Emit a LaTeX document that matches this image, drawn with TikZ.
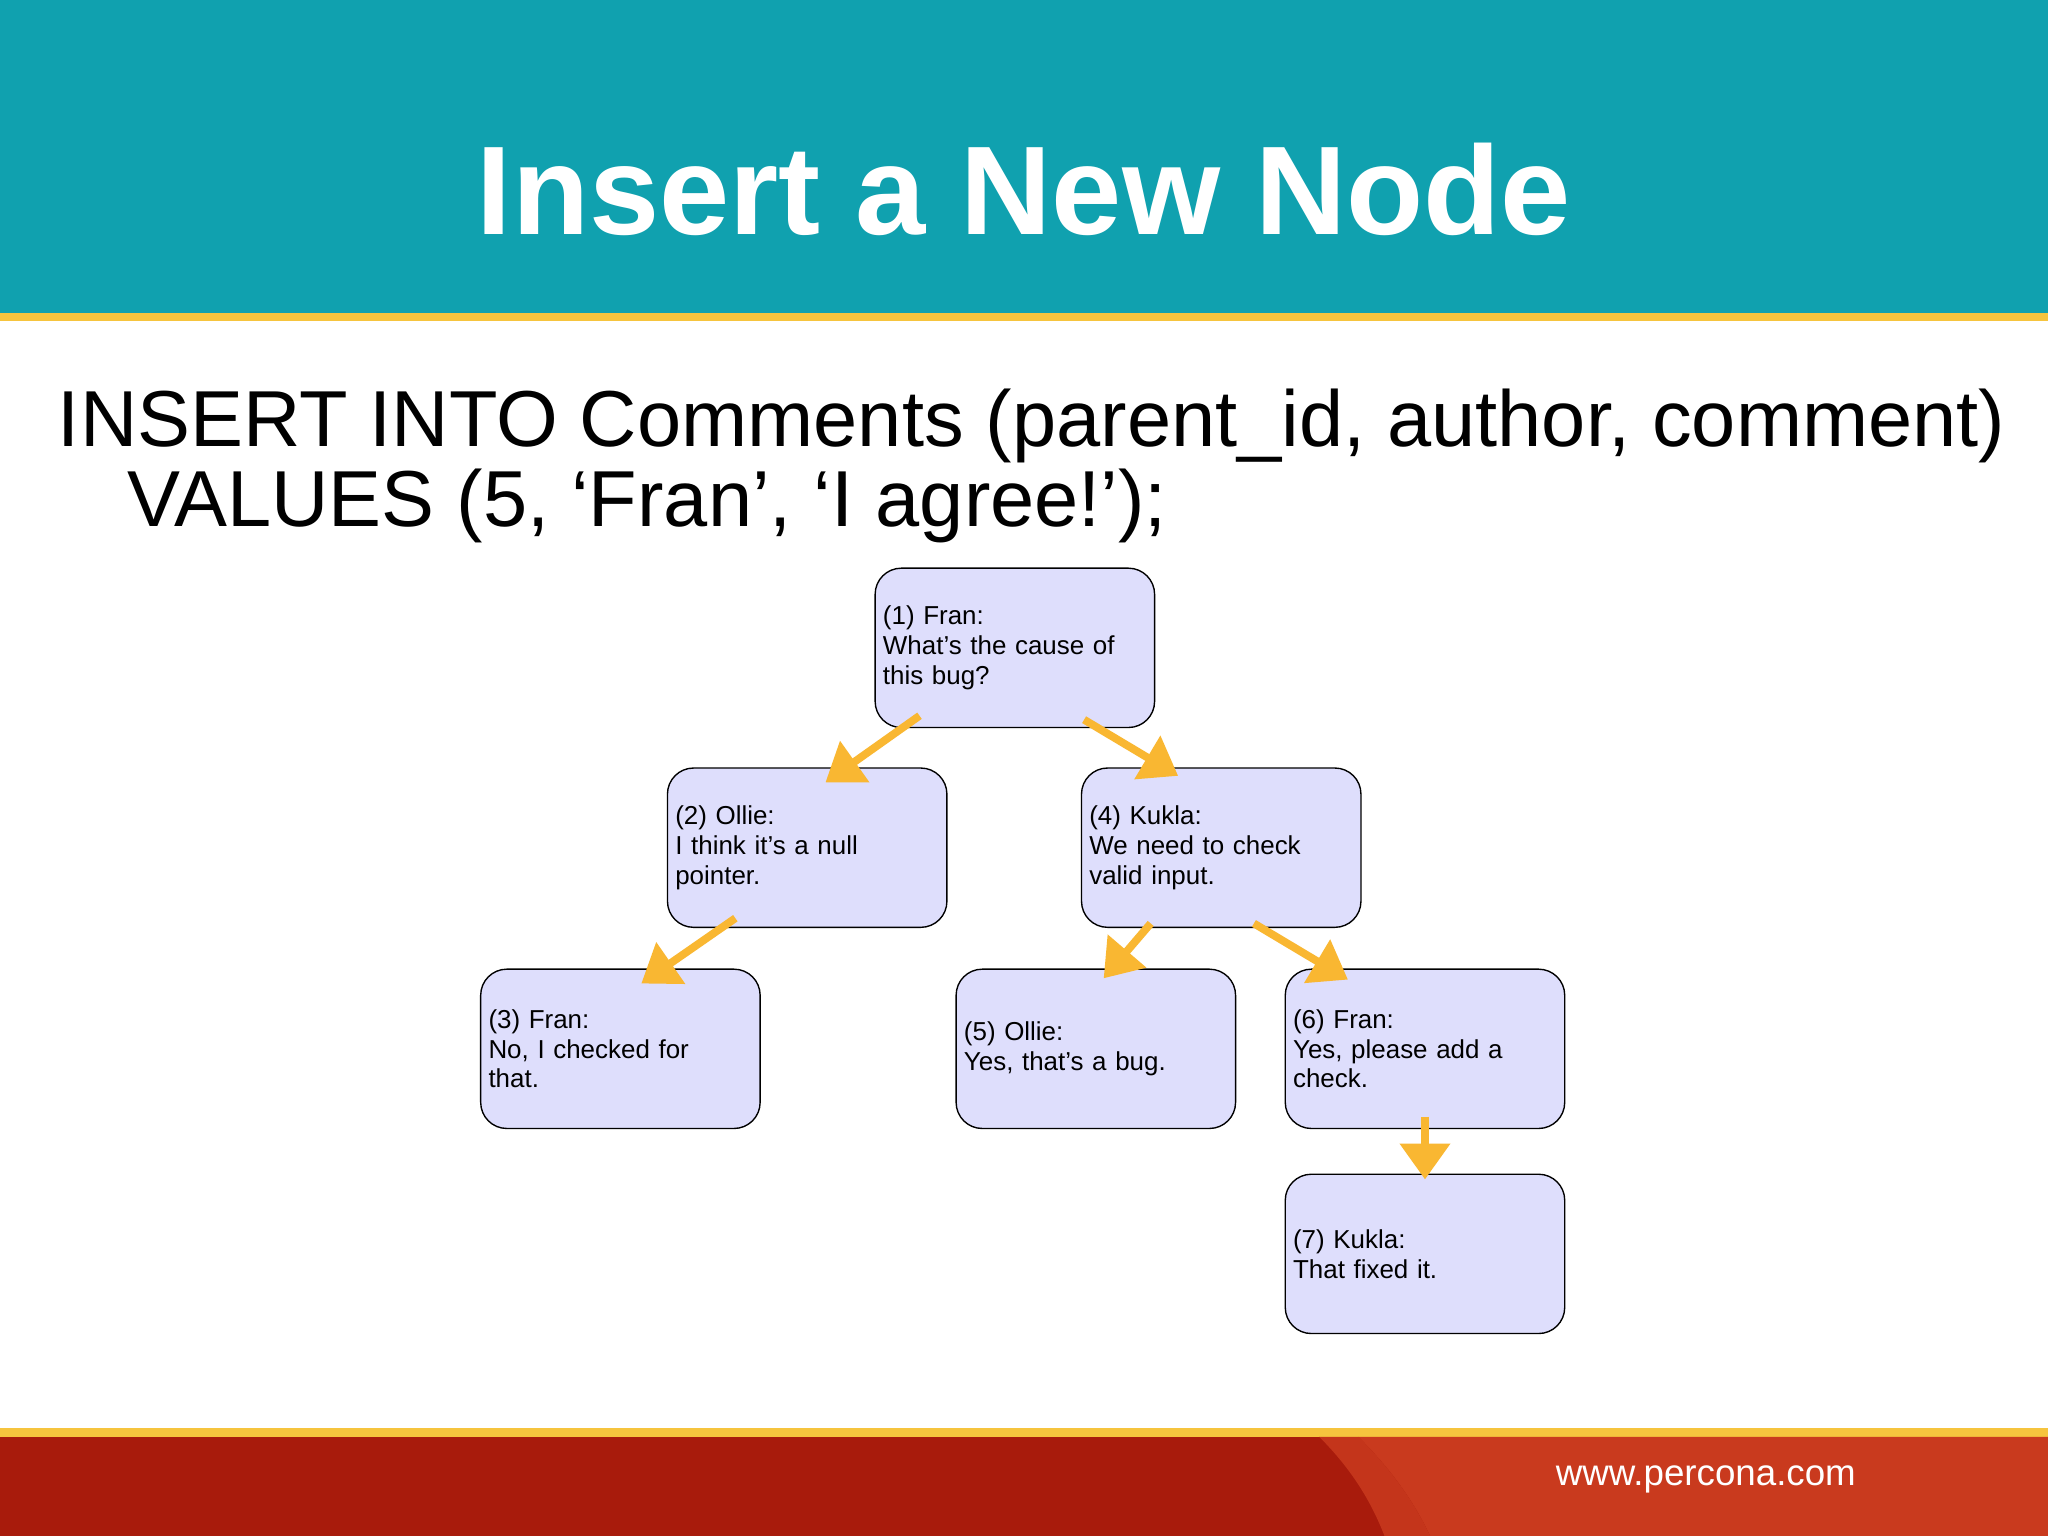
\documentclass[tikz,border=0pt]{standalone}
\usepackage{fontspec}
\setmainfont{Liberation Sans}
\usetikzlibrary{arrows.meta}
\definecolor{teal1}{HTML}{10A1AF}
\definecolor{gold1}{HTML}{F6C43E}
\definecolor{red1}{HTML}{A81B0C}
\definecolor{red2}{HTML}{C93A1E}
\definecolor{boxfill}{HTML}{DEDEFC}
\definecolor{arr}{HTML}{F9B732}
\begin{document}
\begin{tikzpicture}[x=0.02cm,y=-0.02cm,
  cbox/.style={draw=black,line width=0.6pt,fill=boxfill,rounded corners=0.4cm,minimum width=4.28cm,minimum height=2.44cm,text width=4.04cm,align=left,font=\fontsize{11.3}{13}\selectfont,inner sep=0pt},
  oarr/.style={draw=arr,line width=3.4pt,-{Triangle[length=0.55cm,width=0.75cm]}}]
\useasboundingbox (0,0) rectangle (1568,1176);
\fill[white] (0,0) rectangle (1568,1176);
\fill[teal1] (0,0) rectangle (1568,240);
\fill[gold1] (0,240) rectangle (1568,246);
\node[text=white,font=\bfseries\fontsize{55}{60}\selectfont] (title) at (784,145) {Insert a New Node};
\node[anchor=base west,font=\fontsize{34.6}{40}\selectfont,inner sep=0pt] (sql1) at (44,342) {INSERT INTO Comments (parent\_id, author, comment)};
\node[anchor=base west,font=\fontsize{34.6}{40}\selectfont,inner sep=0pt] (sql2) at (97,403) {VALUES (5, ‘Fran’, ‘I agree!’);};
\node[cbox] (n1) at (777,496) {(1) Fran:\\What’s the cause of\\this bug?};
\node[cbox] (n2) at (618,649) {(2) Ollie:\\I think it’s a null\\pointer.};
\node[cbox] (n4) at (935,649) {(4) Kukla:\\We need to check\\valid input.};
\node[cbox] (n3) at (475,803) {(3) Fran:\\No, I checked for\\that.};
\node[cbox] (n5) at (839,803) {(5) Ollie:\\Yes, that’s a bug.};
\node[cbox] (n6) at (1091,803) {(6) Fran:\\Yes, please add a\\check.};
\node[cbox] (n7) at (1091,960) {(7) Kukla:\\That fixed it.};
\coordinate (a1) at (704,548); \coordinate (b1) at (632,599);
\coordinate (a2) at (830,551); \coordinate (b2) at (902,594);
\coordinate (a3) at (563,703); \coordinate (b3) at (491,753);
\coordinate (a4) at (881,707); \coordinate (b4) at (845,749);
\coordinate (a5) at (960,707); \coordinate (b5) at (1032,750);
\coordinate (a6) at (1091,855); \coordinate (b6) at (1091,903);
\draw[oarr] (a1) -- (b1);
\draw[oarr] (a2) -- (b2);
\draw[oarr] (a3) -- (b3);
\draw[oarr] (a4) -- (b4);
\draw[oarr] (a5) -- (b5);
\draw[oarr] (a6) -- (b6);
\fill[gold1] (0,1093) rectangle (1568,1100);
\fill[red1] (0,1100) rectangle (1568,1176);
\fill[red2] (1040,1100) .. controls (1070,1130) and (1085,1155) .. (1095,1176) -- (1568,1176) -- (1568,1100) -- cycle;
\fill[red2!85!red1] (1010,1100) .. controls (1035,1125) and (1050,1150) .. (1060,1176) -- (1095,1176) .. controls (1085,1155) and (1070,1130) .. (1040,1100) -- cycle;
\node[text=white,font=\fontsize{16}{18}\selectfont,anchor=west] (url) at (1185,1133) {www.percona.com};
\end{tikzpicture}
\end{document}
